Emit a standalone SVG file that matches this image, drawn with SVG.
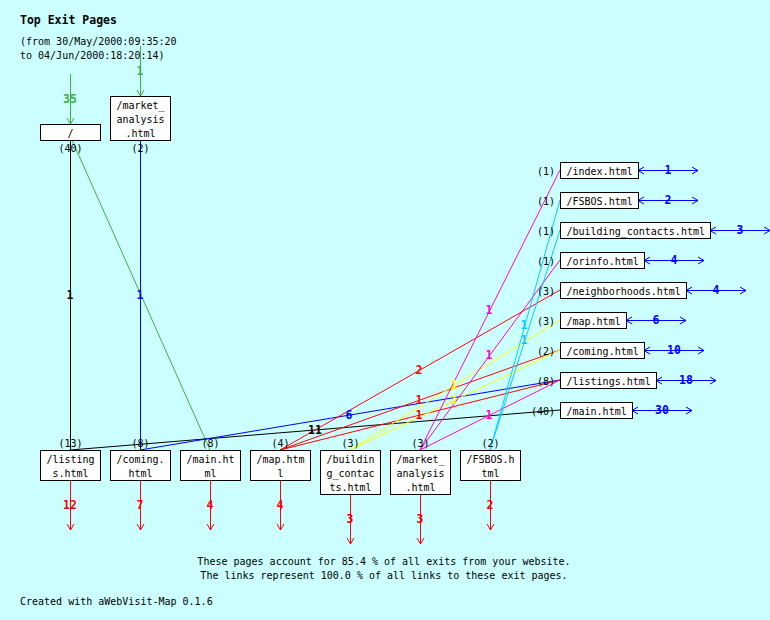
<svg xmlns="http://www.w3.org/2000/svg" width="770" height="620" viewBox="0 0 770 620">
<style>
text{font-family:"DejaVu Sans Mono","Liberation Mono",monospace;font-size:10px;fill:#000}
.t{font-weight:bold;font-size:11.5px}
.lb{font-weight:bold;font-size:11.5px;text-anchor:middle}
.c{text-anchor:middle}
.r{text-anchor:end}
.box{fill:#fff;stroke:#000;stroke-width:1}
line{stroke-width:1;fill:none}
.k{stroke:#000}.kf{fill:#000}
.b{stroke:#0000ff}.bf{fill:#0000ff}
.g{stroke:#40b040}.gf{fill:#40b040}
.rd{stroke:#ff0000}.rdf{fill:#ff0000}
.y{stroke:#ffff00}.yf{fill:#ffff00}
.m{stroke:#ff00dd}.mf{fill:#ff00dd}
.cy{stroke:#00ccff}.cyf{fill:#00ccff}
</style>
<defs>
<marker id="ag" markerUnits="userSpaceOnUse" markerWidth="10" markerHeight="10" refX="0" refY="0" viewBox="-7 -5 8 10" orient="auto-start-reverse"><path d="M-6,-3.5 L0,0 L-6,3.5" fill="none" stroke="#40b040" stroke-width="1"/></marker>
<marker id="ar" markerUnits="userSpaceOnUse" markerWidth="10" markerHeight="10" refX="0" refY="0" viewBox="-7 -5 8 10" orient="auto-start-reverse"><path d="M-6,-3.5 L0,0 L-6,3.5" fill="none" stroke="#ff0000" stroke-width="1"/></marker>
<marker id="ab" markerUnits="userSpaceOnUse" markerWidth="10" markerHeight="10" refX="0" refY="0" viewBox="-7 -5 8 10" orient="auto-start-reverse"><path d="M-6,-3.5 L0,0 L-6,3.5" fill="none" stroke="#0000ff" stroke-width="1"/></marker>
</defs>
<rect x="0" y="0" width="770" height="620" fill="#ccffff"/>
<text class="t" x="20" y="24">Top Exit Pages</text>
<text x="20" y="45">(from 30/May/2000:09:35:20</text>
<text x="20" y="59">to 04/Jun/2000:18:20:14)</text>

<g id="connectors">
<line class="k" x1="70.5" y1="140" x2="70.5" y2="450"/>
<line class="b" x1="140.5" y1="140" x2="140.5" y2="450"/>
<line class="g" x1="72" y1="140" x2="210" y2="450"/>
<line class="k" x1="70" y1="450" x2="560" y2="410"/>
<line class="b" x1="140" y1="450" x2="560" y2="380"/>
<line class="rd" x1="280" y1="450" x2="560" y2="290"/>
<line class="rd" x1="280" y1="450" x2="560" y2="350"/>
<line class="rd" x1="280" y1="450" x2="560" y2="380"/>
<line class="y" x1="350" y1="450" x2="560" y2="320"/>
<line class="y" x1="350" y1="450" x2="560" y2="350"/>
<line class="m" x1="420" y1="450" x2="560" y2="170"/>
<line class="m" x1="420" y1="450" x2="560" y2="260"/>
<line class="m" x1="420" y1="450" x2="560" y2="380"/>
<line class="cy" x1="490" y1="450" x2="560" y2="200"/>
<line class="cy" x1="490" y1="450" x2="560" y2="230"/>
<text class="lb kf" x="70" y="299">1</text>
<text class="lb bf" x="140" y="299">1</text>
<text class="lb kf" x="315" y="434">11</text>
<text class="lb bf" x="349" y="419">6</text>
<text class="lb rdf" x="419" y="374">2</text>
<text class="lb rdf" x="419" y="404">1</text>
<text class="lb rdf" x="419" y="419">1</text>
<text class="lb yf" x="454" y="389">1</text>
<text class="lb yf" x="454" y="404">1</text>
<text class="lb mf" x="489" y="314">1</text>
<text class="lb mf" x="489" y="359">1</text>
<text class="lb mf" x="489" y="419">1</text>
<text class="lb cyf" x="524" y="329">1</text>
<text class="lb cyf" x="524" y="344">1</text>

<line class="g" x1="70.5" y1="74" x2="70.5" y2="124" marker-end="url(#ag)"/>
<text class="lb gf" x="70" y="103">35</text>
<line class="g" x1="140.5" y1="46" x2="140.5" y2="96" marker-end="url(#ag)"/>
<text class="lb gf" x="140" y="75">1</text>

<line class="rd" x1="70.5" y1="480" x2="70.5" y2="530" marker-end="url(#ar)"/>
<text class="lb rdf" x="70" y="509">12</text>
<line class="rd" x1="140.5" y1="480" x2="140.5" y2="530" marker-end="url(#ar)"/>
<text class="lb rdf" x="140" y="509">7</text>
<line class="rd" x1="210.5" y1="480" x2="210.5" y2="530" marker-end="url(#ar)"/>
<text class="lb rdf" x="210" y="509">4</text>
<line class="rd" x1="280.5" y1="480" x2="280.5" y2="530" marker-end="url(#ar)"/>
<text class="lb rdf" x="280" y="509">4</text>
<line class="rd" x1="350.5" y1="494" x2="350.5" y2="544" marker-end="url(#ar)"/>
<text class="lb rdf" x="350" y="523">3</text>
<line class="rd" x1="420.5" y1="494" x2="420.5" y2="544" marker-end="url(#ar)"/>
<text class="lb rdf" x="420" y="523">3</text>
<line class="rd" x1="490.5" y1="480" x2="490.5" y2="530" marker-end="url(#ar)"/>
<text class="lb rdf" x="490" y="509">2</text>

<line class="b" x1="638" y1="170.5" x2="698" y2="170.5" marker-start="url(#ab)" marker-end="url(#ab)"/>
<text class="lb bf" x="668" y="174">1</text>
<line class="b" x1="638" y1="200.5" x2="698" y2="200.5" marker-start="url(#ab)" marker-end="url(#ab)"/>
<text class="lb bf" x="668" y="204">2</text>
<line class="b" x1="710" y1="230.5" x2="770" y2="230.5" marker-start="url(#ab)" marker-end="url(#ab)"/>
<text class="lb bf" x="740" y="234">3</text>
<line class="b" x1="644" y1="260.5" x2="704" y2="260.5" marker-start="url(#ab)" marker-end="url(#ab)"/>
<text class="lb bf" x="674" y="264">4</text>
<line class="b" x1="686" y1="290.5" x2="746" y2="290.5" marker-start="url(#ab)" marker-end="url(#ab)"/>
<text class="lb bf" x="716" y="294">4</text>
<line class="b" x1="626" y1="320.5" x2="686" y2="320.5" marker-start="url(#ab)" marker-end="url(#ab)"/>
<text class="lb bf" x="656" y="324">6</text>
<line class="b" x1="644" y1="350.5" x2="704" y2="350.5" marker-start="url(#ab)" marker-end="url(#ab)"/>
<text class="lb bf" x="674" y="354">10</text>
<line class="b" x1="656" y1="380.5" x2="716" y2="380.5" marker-start="url(#ab)" marker-end="url(#ab)"/>
<text class="lb bf" x="686" y="384">18</text>
<line class="b" x1="632" y1="410.5" x2="692" y2="410.5" marker-start="url(#ab)" marker-end="url(#ab)"/>
<text class="lb bf" x="662" y="414">30</text>
</g>

<g id="n_root"><rect class="box" x="40.5" y="124.5" width="60" height="16"/><text class="c" x="70.5" y="136.5">/</text><text class="c" x="70.5" y="152">(40)</text></g>
<g id="n_market_top"><rect class="box" x="110.5" y="96.5" width="60" height="44"/><text class="c" x="140.5" y="108.5">/market_</text><text class="c" x="140.5" y="122.5">analysis</text><text class="c" x="140.5" y="136.5">.html</text><text class="c" x="140.5" y="152">(2)</text></g>

<g id="n_listings_b"><rect class="box" x="40.5" y="450.5" width="60" height="30"/><text class="c" x="70.5" y="462.5">/listing</text><text class="c" x="70.5" y="476.5">s.html</text><text class="c" x="70.5" y="447">(13)</text></g>
<g id="n_coming_b"><rect class="box" x="110.5" y="450.5" width="60" height="30"/><text class="c" x="140.5" y="462.5">/coming.</text><text class="c" x="140.5" y="476.5">html</text><text class="c" x="140.5" y="447">(8)</text></g>
<g id="n_main_b"><rect class="box" x="180.5" y="450.5" width="60" height="30"/><text class="c" x="210.5" y="462.5">/main.ht</text><text class="c" x="210.5" y="476.5">ml</text><text class="c" x="210.5" y="447">(8)</text></g>
<g id="n_map_b"><rect class="box" x="250.5" y="450.5" width="60" height="30"/><text class="c" x="280.5" y="462.5">/map.htm</text><text class="c" x="280.5" y="476.5">l</text><text class="c" x="280.5" y="447">(4)</text></g>
<g id="n_building_b"><rect class="box" x="320.5" y="450.5" width="60" height="44"/><text class="c" x="350.5" y="462.5">/buildin</text><text class="c" x="350.5" y="476.5">g_contac</text><text class="c" x="350.5" y="490.5">ts.html</text><text class="c" x="350.5" y="447">(3)</text></g>
<g id="n_market_b"><rect class="box" x="390.5" y="450.5" width="60" height="44"/><text class="c" x="420.5" y="462.5">/market_</text><text class="c" x="420.5" y="476.5">analysis</text><text class="c" x="420.5" y="490.5">.html</text><text class="c" x="420.5" y="447">(3)</text></g>
<g id="n_fsbos_b"><rect class="box" x="460.5" y="450.5" width="60" height="30"/><text class="c" x="490.5" y="462.5">/FSBOS.h</text><text class="c" x="490.5" y="476.5">tml</text><text class="c" x="490.5" y="447">(2)</text></g>

<g id="n_index"><rect class="box" x="560.5" y="162.5" width="78" height="16"/><text x="566.5" y="174.5">/index.html</text><text class="r" x="555" y="174.5">(1)</text></g>
<g id="n_fsbos"><rect class="box" x="560.5" y="192.5" width="78" height="16"/><text x="566.5" y="204.5">/FSBOS.html</text><text class="r" x="555" y="204.5">(1)</text></g>
<g id="n_building"><rect class="box" x="560.5" y="222.5" width="150" height="16"/><text x="566.5" y="234.5">/building_contacts.html</text><text class="r" x="555" y="234.5">(1)</text></g>
<g id="n_orinfo"><rect class="box" x="560.5" y="252.5" width="84" height="16"/><text x="566.5" y="264.5">/orinfo.html</text><text class="r" x="555" y="264.5">(1)</text></g>
<g id="n_neighborhoods"><rect class="box" x="560.5" y="282.5" width="126" height="16"/><text x="566.5" y="294.5">/neighborhoods.html</text><text class="r" x="555" y="294.5">(3)</text></g>
<g id="n_map"><rect class="box" x="560.5" y="312.5" width="66" height="16"/><text x="566.5" y="324.5">/map.html</text><text class="r" x="555" y="324.5">(3)</text></g>
<g id="n_coming"><rect class="box" x="560.5" y="342.5" width="84" height="16"/><text x="566.5" y="354.5">/coming.html</text><text class="r" x="555" y="354.5">(2)</text></g>
<g id="n_listings"><rect class="box" x="560.5" y="372.5" width="96" height="16"/><text x="566.5" y="384.5">/listings.html</text><text class="r" x="555" y="384.5">(8)</text></g>
<g id="n_main"><rect class="box" x="560.5" y="402.5" width="72" height="16"/><text x="566.5" y="414.5">/main.html</text><text class="r" x="555" y="414.5">(40)</text></g>

<text class="c" x="384" y="565">These pages account for 85.4 % of all exits from your website.</text>
<text class="c" x="384" y="579">The links represent 100.0 % of all links to these exit pages.</text>
<text x="20" y="605">Created with aWebVisit-Map 0.1.6</text>
</svg>
